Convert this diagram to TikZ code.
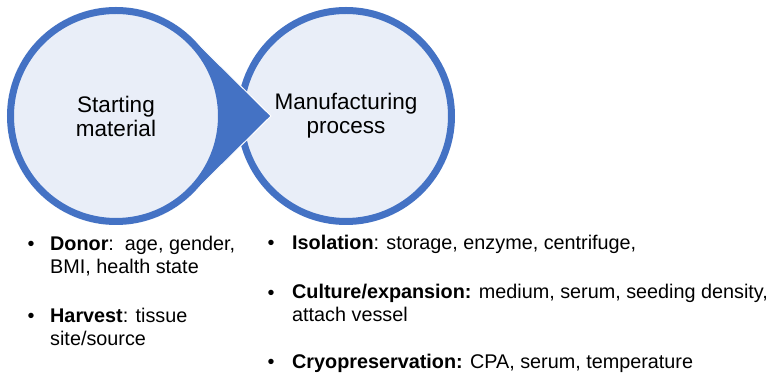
\documentclass[tikz,border=0pt]{standalone}
\usepackage{fontspec}
\setmainfont{Liberation Sans}
\usetikzlibrary{calc}
\definecolor{ringblue}{HTML}{4472C4}
\definecolor{lightfill}{RGB}{233,238,248}
\begin{document}
\begin{tikzpicture}[x=1pt,y=1pt,
  bubble/.style={circle, draw=ringblue, line width=7pt, fill=lightfill,
    minimum size=211pt, inner sep=0pt, align=center,
    font=\fontsize{22.5}{24}\selectfont},
  bul/.style={anchor=base, inner sep=0pt, font=\fontsize{19.8}{23}\selectfont},
  item/.style={anchor=base west, align=left, inner sep=0pt,
    font=\fontsize{19.8}{23}\selectfont}]
\useasboundingbox (0,0) rectangle (774,374);
\coordinate (Lc) at (116,258);
\coordinate (Rc) at (346,258);
\coordinate (tip) at (271,258);
\node[bubble] (R) at (Rc) {Manufacturing\\process};
\fill[ringblue, draw=white, line width=1pt] (tip) -- ($(Lc)+(45.3:109)$)
  arc[start angle=45.3, end angle=314.7, radius=109] -- cycle;
\node[bubble] (L) at (Lc) {Starting\\material};
% left column (node anchor = baseline of last line)
\node[bul] (b1) at (31,123) {•};
\node[item] (donor) at (50,100) {\textbf{Donor}:\ \ age, gender,\\BMI, health state};
\node[bul] (b2) at (31,51) {•};
\node[item] (harvest) at (50,28) {\textbf{Harvest}: tissue\\site/source};
% right column
\node[bul] (b3) at (271,124) {•};
\node[item] (iso) at (292,124) {\textbf{Isolation}: storage, enzyme, centrifuge,};
\node[bul] (b4) at (271,74) {•};
\node[item] (cult) at (292,52) {\textbf{Culture/expansion:} medium, serum, seeding density,\\attach vessel};
\node[bul] (b5) at (271,5) {•};
\node[item] (cryo) at (292,5) {\textbf{Cryopreservation:} CPA, serum, temperature};
\end{tikzpicture}
\end{document}
